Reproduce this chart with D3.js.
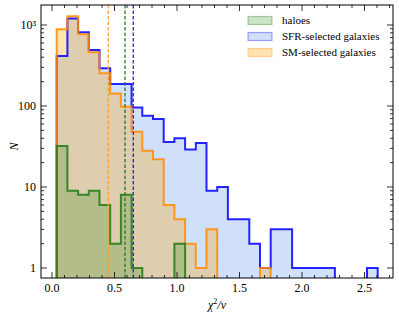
<!DOCTYPE html>
<html>
<head>
<meta charset="utf-8">
<script src="https://cdn.jsdelivr.net/npm/d3@7"></script>
<style>
body { margin: 0; background: #fff; }
text { font-family: "Liberation Serif", "DejaVu Serif", serif; fill: #000; }
</style>
</head>
<body>
<script>
// histogram bins (common to all three samples)
var binStart = 0.0376, binWidth = 0.0856, nBins = 30;

var sfrCounts = [414, 1200, 812, 491, 292, 187, 187, 96, 76, 69, 36, 40, 29, 35, 9, 10, 4, 4, 2, 1, 3, 3, 1, 1, 1, 1, 0, 0, 0, 1];
var smCounts = [885, 1280, 767, 460, 253, 143, 98, 48, 28, 22, 6, 4, 2, 1, 3, 0, 0, 0, 0, 1, 0, 0, 0, 0, 0, 0, 0, 0, 0, 0];
var haloCounts = [32, 9, 8, 9, 6, 2, 8, 1, 0, 0, 0, 2, 0, 0, 0, 0, 0, 0, 0, 0, 0, 0, 0, 0, 0, 0, 0, 0, 0, 0];

// median chi2/nu markers
var medians = [
  {name: "sm", value: 0.45, color: "#ff9a1f"},
  {name: "haloes", value: 0.584, color: "#1d6e1d"},
  {name: "sfr", value: 0.65, color: "#1515c8"}
];

var xTicks = [0.0, 0.5, 1.0, 1.5, 2.0, 2.5];
var yTicks = [1, 10, 100, 1000];
var yTickLabels = ["1", "10", "100", "10\u00b3"];

var margin = {top: 5, right: 6, bottom: 37, left: 41},
    width = 399 - margin.left - margin.right,
    height = 315 - margin.top - margin.bottom;

var x = d3.scaleLinear().domain([-0.088, 2.728]).range([0, width]);
var y = d3.scaleLog().domain([0.753, 1765]).range([height, 0]);

var svg = d3.select("body").append("svg")
    .attr("width", 399)
    .attr("height", 315)
  .append("g")
    .attr("transform", "translate(" + margin.left + "," + margin.top + ")");

svg.append("clipPath").attr("id", "clip")
  .append("rect").attr("width", width).attr("height", height);

var series = [
  {label: "haloes", counts: haloCounts, fill: "#2f8f1f", fillOpacity: 0.25, stroke: "#1e7a12"},
  {label: "SFR-selected galaxies", counts: sfrCounts, fill: "#6495ed", fillOpacity: 0.3, stroke: "#0000ff"},
  {label: "SM-selected galaxies", counts: smCounts, fill: "#ffa500", fillOpacity: 0.3, stroke: "#ff8c00"}
];

var stepPoints = function(counts) {
  var pts = [[binStart, 0.3]];
  counts.forEach(function(c, i) {
    var v = c > 0 ? c : 0.3;
    pts.push([binStart + i * binWidth, v]);
    pts.push([binStart + (i + 1) * binWidth, v]);
  });
  pts.push([binStart + counts.length * binWidth, 0.3]);
  return pts;
};

var line = d3.line()
    .x(function(d) { return x(d[0]); })
    .y(function(d) { return Math.min(y(d[1]), height + 20); });

var plot = svg.append("g").attr("clip-path", "url(#clip)");

// draw order: SFR, SM, haloes
var order = [series[1], series[2], series[0]];

order.forEach(function(s) {
  plot.append("path")
      .attr("d", line(stepPoints(s.counts)) + "Z")
      .style("fill", s.fill)
      .style("fill-opacity", s.fillOpacity)
      .style("stroke", "none");
});
order.forEach(function(s) {
  plot.append("path")
      .attr("d", line(stepPoints(s.counts)))
      .style("fill", "none")
      .style("stroke", s.stroke)
      .style("stroke-opacity", 0.85)
      .style("stroke-width", 2);
});

medians.forEach(function(m) {
  plot.append("line")
      .attr("x1", x(m.value)).attr("x2", x(m.value))
      .attr("y1", 0).attr("y2", height)
      .style("stroke", m.color)
      .style("stroke-width", 1.2)
      .style("stroke-dasharray", "3.5,2");
});

// frame
svg.append("rect")
    .attr("width", width).attr("height", height)
    .style("fill", "none").style("stroke", "#000").style("stroke-width", 1);

// x ticks (major + minor), inward, mirrored on top
var xMinor = d3.range(0, 28).map(function(i) { return i / 10; })
    .filter(function(v) { return x(v) > 0 && x(v) < width; });
var ticks = svg.append("g").style("stroke", "#000").style("stroke-width", 0.8);
xMinor.forEach(function(v) {
  var major = Math.abs(v * 2 - Math.round(v * 2)) < 1e-6;
  var len = major ? 6 : 3;
  ticks.append("line").attr("x1", x(v)).attr("x2", x(v)).attr("y1", height).attr("y2", height - len);
  ticks.append("line").attr("x1", x(v)).attr("x2", x(v)).attr("y1", 0).attr("y2", len);
});

// y ticks, log minor
[1, 10, 100, 1000].forEach(function(dec) {
  for (var k = 1; k < 10; k++) {
    var v = dec * k;
    if (v < y.domain()[0] || v > y.domain()[1]) continue;
    var len = k === 1 ? 6 : 3;
    ticks.append("line").attr("x1", 0).attr("x2", len).attr("y1", y(v)).attr("y2", y(v));
    ticks.append("line").attr("x1", width).attr("x2", width - len).attr("y1", y(v)).attr("y2", y(v));
  }
});

svg.selectAll(".xlab")
    .data(xTicks)
  .enter().append("text")
    .attr("x", function(d) { return x(d); })
    .attr("y", height + 14)
    .attr("text-anchor", "middle")
    .style("font-size", "12px")
    .text(function(d) { return d.toFixed(1); });

svg.selectAll(".ylab")
    .data(yTicks)
  .enter().append("text")
    .attr("x", -5)
    .attr("y", function(d) { return y(d) + 4; })
    .attr("text-anchor", "end")
    .style("font-size", "12px")
    .text(function(d, i) { return yTickLabels[i]; });

svg.append("text")
    .attr("transform", "translate(" + (-23.5) + "," + (height / 2 + 5) + ") rotate(-90)")
    .attr("text-anchor", "middle")
    .style("font-size", "12px")
    .style("font-style", "italic")
    .text("N");

var xl = svg.append("text")
    .attr("x", width / 2)
    .attr("y", height + 31)
    .attr("text-anchor", "middle")
    .style("font-size", "12px")
    .style("font-style", "italic");
xl.append("tspan").text("\u03c7");
xl.append("tspan").attr("dy", -5).style("font-size", "8px").style("font-style", "normal").text("2");
xl.append("tspan").attr("dy", 5).text("/\u03bd");

// legend
var legend = svg.append("g").attr("transform", "translate(" + (248 - margin.left) + "," + (16.5 - margin.top) + ")");
series.forEach(function(s, i) {
  var g = legend.append("g").attr("transform", "translate(0," + (i * 16) + ")");
  g.append("rect")
      .attr("width", 24).attr("height", 8)
      .style("fill", s.fill).style("fill-opacity", s.fillOpacity)
      .style("stroke", s.stroke).style("stroke-opacity", 0.35).style("stroke-width", 1.2);
  g.append("text")
      .attr("x", 34).attr("y", 7.5)
      .style("font-size", "11px")
      .text(s.label);
});
</script>
</body>
</html>
